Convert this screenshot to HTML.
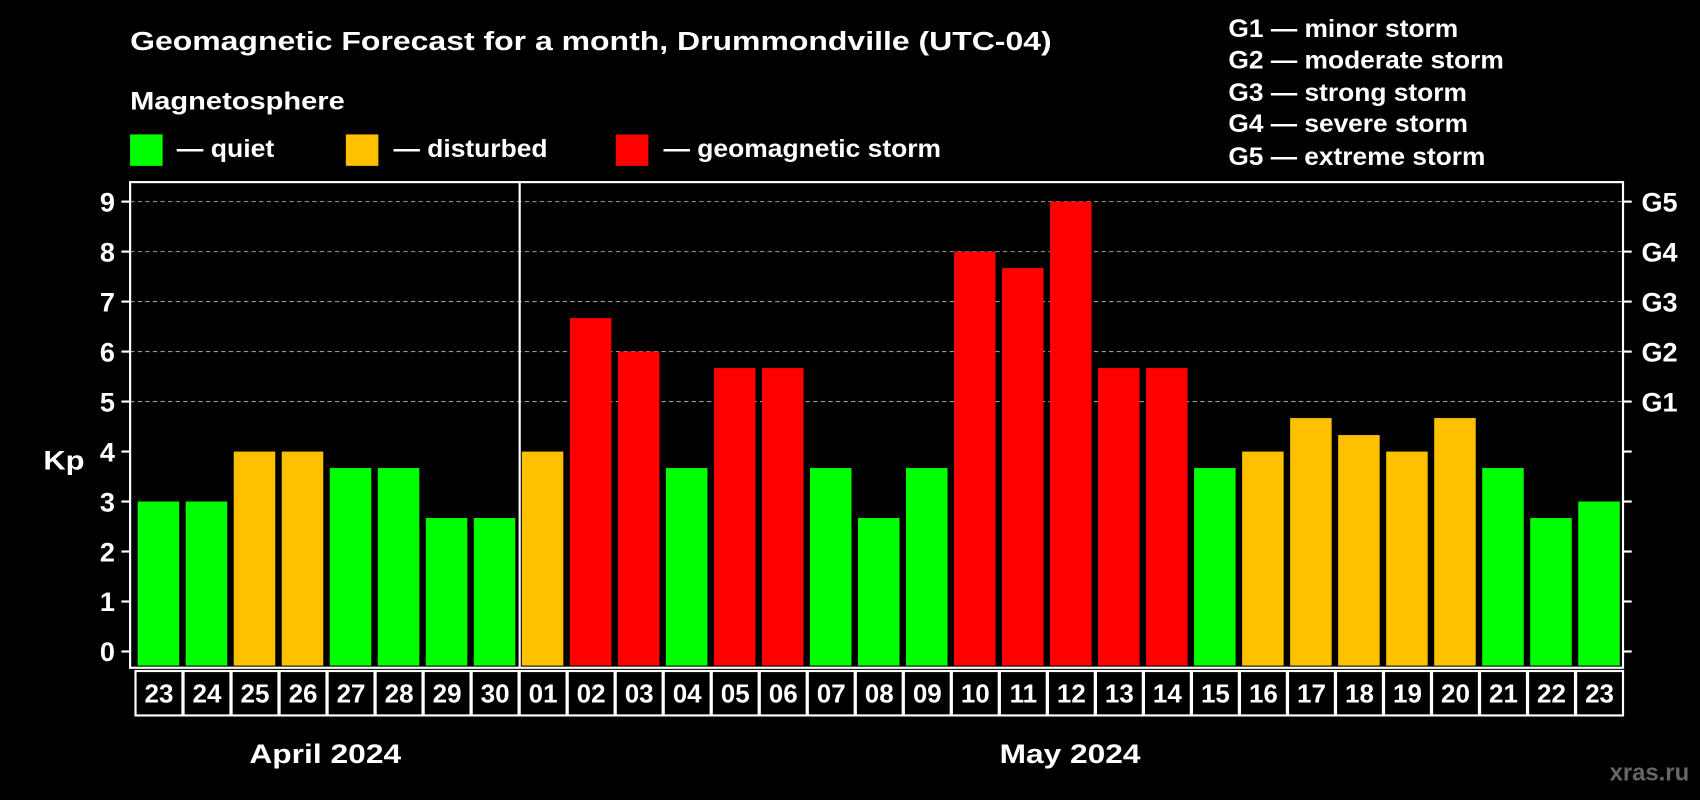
<!DOCTYPE html>
<html><head><meta charset="utf-8"><style>
html,body{margin:0;padding:0;background:#000;}
svg{display:block;font-family:"Liberation Sans",Arial,sans-serif;font-weight:bold;}
</style></head><body>
<svg id="chart" width="1700" height="800" viewBox="0 0 1568 738" preserveAspectRatio="none" xmlns="http://www.w3.org/2000/svg">
<rect width="1568" height="738" fill="#000"/>
<text x="120" y="46" fill="#fff" font-size="24" textLength="850" lengthAdjust="spacingAndGlyphs">Geomagnetic Forecast for a month, Drummondville (UTC-04)</text>
<text x="120" y="101" fill="#fff" font-size="23" textLength="198" lengthAdjust="spacingAndGlyphs">Magnetosphere</text>
<g><rect x="120" y="124" width="30" height="29" fill="#00ff00"/><text x="163" y="145" fill="#fff" font-size="23" textLength="90" lengthAdjust="spacingAndGlyphs">— quiet</text></g>
<g><rect x="319" y="124" width="30" height="29" fill="#ffc000"/><text x="363" y="145" fill="#fff" font-size="23" textLength="142" lengthAdjust="spacingAndGlyphs">— disturbed</text></g>
<g><rect x="568" y="124" width="30" height="29" fill="#ff0000"/><text x="612" y="145" fill="#fff" font-size="23" textLength="256" lengthAdjust="spacingAndGlyphs">— geomagnetic storm</text></g>
<g fill="#fff" font-size="23">
<text x="1133" y="34" textLength="212" lengthAdjust="spacingAndGlyphs">G1 — minor storm</text>
<text x="1133" y="63" textLength="254" lengthAdjust="spacingAndGlyphs">G2 — moderate storm</text>
<text x="1133" y="93" textLength="220" lengthAdjust="spacingAndGlyphs">G3 — strong storm</text>
<text x="1133" y="122" textLength="221" lengthAdjust="spacingAndGlyphs">G4 — severe storm</text>
<text x="1133" y="152" textLength="237" lengthAdjust="spacingAndGlyphs">G5 — extreme storm</text>
</g>
<text x="40" y="433" fill="#fff" font-size="25" textLength="38" lengthAdjust="spacingAndGlyphs">Kp</text>
<g id="grid"></g><g id="bars"></g><g id="axes"></g><g id="xlabels"></g>
<text x="230" y="704" fill="#fff" font-size="25" textLength="140" lengthAdjust="spacingAndGlyphs">April 2024</text>
<text x="922" y="704" fill="#fff" font-size="25" textLength="130" lengthAdjust="spacingAndGlyphs">May 2024</text>
<text x="1558" y="720" fill="#666" font-size="22" text-anchor="end">xras.ru</text>
</svg>
<script>
const days = ["23","24","25","26","27","28","29","30","01","02","03","04","05","06","07","08","09","10","11","12","13","14","15","16","17","18","19","20","21","22","23"];
const kp = [3,3,4,4,3.67,3.67,2.67,2.67,4,6.67,6,3.67,5.67,5.67,3.67,2.67,3.67,8,7.67,9,5.67,5.67,3.67,4,4.67,4.33,4,4.67,3.67,2.67,3];
const yTicks = [0,1,2,3,4,5,6,7,8,9];
const gLabels = ["G1","G2","G3","G4","G5"];
const gLevels = [5,6,7,8,9];
const monthSplit = 8;

const NS="http://www.w3.org/2000/svg";
const L=120,R=1497,T=168,B=616;
const y0=601,unit=(601-186)/9;
const yS=v=>y0-v*unit;
const pitch=(R-L-4)/days.length;
const xS=i=>L+4+i*pitch;
const bw=pitch-6;
function mk(tag,attrs,parent){const e=document.createElementNS(NS,tag);for(const k in attrs)e.setAttribute(k,attrs[k]);parent.appendChild(e);return e;}
const grid=document.getElementById('grid'),bars=document.getElementById('bars'),axes=document.getElementById('axes'),xl=document.getElementById('xlabels');
yTicks.forEach(v=>{
  if(v>=5){const g=mk('line',{x1:L,x2:R,y1:yS(v),y2:yS(v),stroke:'#999','stroke-dasharray':'4,3','stroke-width':1},grid);
  
  }
  const t=mk('line',{x1:L-8,x2:L,y1:yS(v),y2:yS(v),stroke:'#fff','stroke-width':2},axes);
  
  
  const rt=mk('line',{x1:R,x2:R+8,y1:yS(v),y2:yS(v),stroke:'#fff','stroke-width':2},axes);
  
  
  const tx=mk('text',{x:L-14,y:yS(v)+9,fill:'#fff','font-size':25,'text-anchor':'end'},axes);tx.textContent=v;
  
  
});
gLabels.forEach((g,i)=>{
  const tx=mk('text',{x:R+17,y:yS(gLevels[i])+9,fill:'#fff','font-size':25},axes);tx.textContent=g;
  
  
});
kp.forEach((v,i)=>{
  const c=v>=5?'#ff0000':(v>=4?'#ffc000':'#00ff00');
  const b=mk('rect',{x:xS(i)+3,y:yS(v),width:bw,height:B-2-yS(v),fill:c},bars);
  
  
  const cell=mk('rect',{x:xS(i)+1,y:619,width:pitch-1,height:41,fill:'none',stroke:'#fff','stroke-width':2},xl);
  
  
  const tx=mk('text',{x:xS(i)+pitch/2+0.5,y:648,fill:'#fff','font-size':24,'text-anchor':'middle'},xl);tx.textContent=days[i];
  
  
});
const frame=mk('rect',{x:L,y:T,width:R-L,height:B-T,fill:'none',stroke:'#fff','stroke-width':2},axes);


const sx=xS(monthSplit)+1;
const sep=mk('line',{x1:sx,x2:sx,y1:T,y2:B,stroke:'#fff','stroke-width':2},axes);


</script>
</body></html>
